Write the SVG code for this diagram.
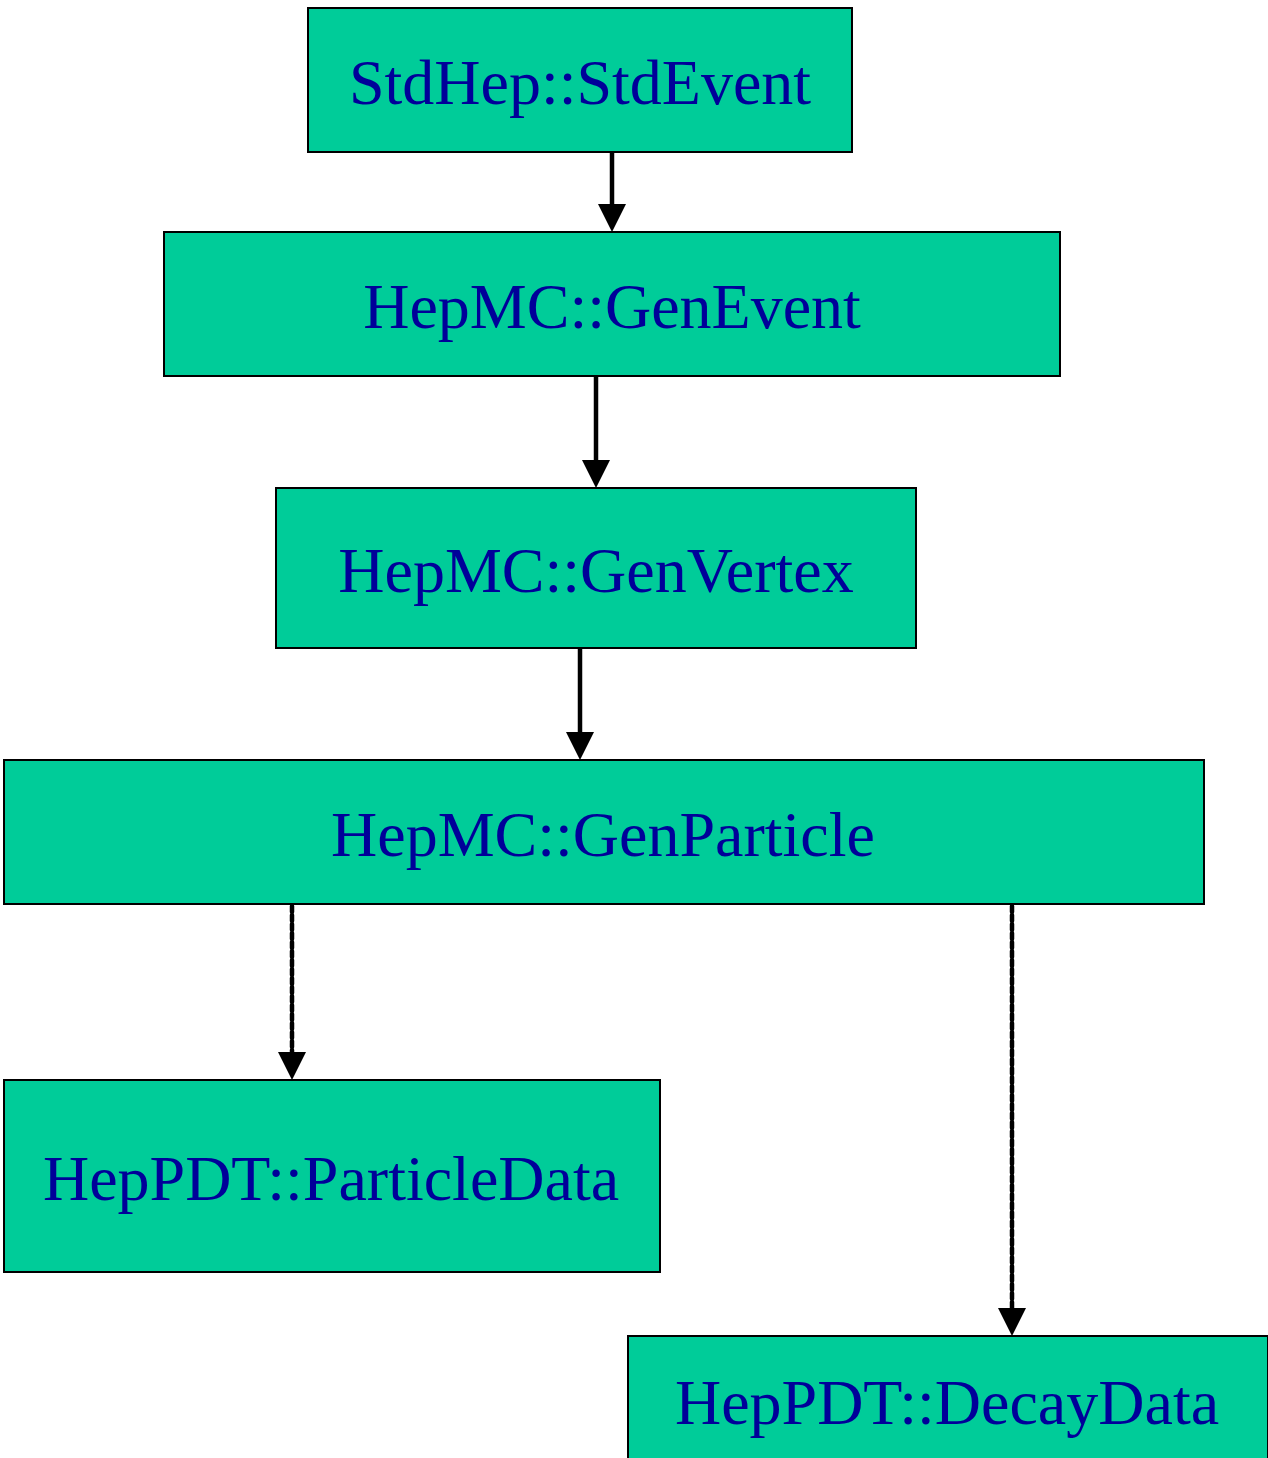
<svg xmlns="http://www.w3.org/2000/svg" width="1268" height="1458" viewBox="0 0 1268 1458">
<style>
.node rect{fill:#00CC99;stroke:#000;stroke-width:2}
.node text{font-family:"Liberation Serif","Times New Roman",serif;font-size:64px;fill:#000099;text-anchor:middle}
.edge{stroke:#000;stroke-width:4.5;fill:none}
.dash{stroke-dasharray:6 3;stroke-linecap:round}
</style>
<rect width="1268" height="1458" fill="#fff"/>
<g id="connectors">
<path class="edge" d="M612,152 V206"/>
<path d="M598,204 L626,204 L612,232 Z"/>
<path class="edge" d="M596,376 V462"/>
<path d="M582,460 L610,460 L596,488 Z"/>
<path class="edge" d="M580,648 V734"/>
<path d="M566,732 L594,732 L580,760 Z"/>
<path class="edge dash" d="M292,906 V1052"/>
<path d="M278,1052 L306,1052 L292,1080 Z"/>
<path class="edge dash" d="M1012,906 V1308"/>
<path d="M998,1308 L1026,1308 L1012,1336 Z"/>
</g>
<g id="n1" class="node"><rect x="308" y="8" width="544" height="144"/><text x="580" y="104">StdHep::StdEvent</text></g>
<g id="n2" class="node"><rect x="164" y="232" width="896" height="144"/><text x="612" y="328">HepMC::GenEvent</text></g>
<g id="n3" class="node"><rect x="276" y="488" width="640" height="160"/><text x="596" y="592">HepMC::GenVertex</text></g>
<g id="n4" class="node"><rect x="4" y="760" width="1200" height="144"/><text x="603" y="856">HepMC::GenParticle</text></g>
<g id="n5" class="node"><rect x="4" y="1080" width="656" height="192"/><text x="331" y="1200">HepPDT::ParticleData</text></g>
<g id="n6" class="node"><rect x="628" y="1336" width="640" height="140"/><text x="947" y="1424">HepPDT::DecayData</text></g>
</svg>
